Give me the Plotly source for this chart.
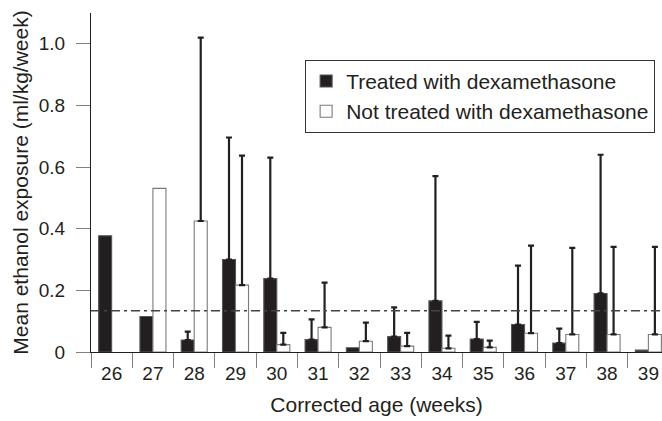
import plotly.graph_objects as go

# ---- data ----
ages = ["26", "27", "28", "29", "30", "31", "32", "33", "34", "35", "36", "37", "38", "39"]

treated = [0.377, 0.115, 0.039, 0.300, 0.238, 0.040, 0.014, 0.050, 0.166, 0.042, 0.089, 0.029, 0.190, 0.006]
treated_upper = [None, None, 0.066, 0.696, 0.631, 0.106, None, 0.145, 0.571, 0.098, 0.280, 0.076, 0.640, None]

not_treated = [None, 0.531, 0.425, 0.217, 0.024, 0.080, 0.035, 0.019, 0.012, 0.015, 0.061, 0.057, 0.057, 0.057]
not_treated_upper = [None, None, 1.020, 0.637, 0.062, 0.225, 0.095, 0.062, 0.053, 0.037, 0.345, 0.338, 0.341, 0.341]

reference_level = 0.134

INK = "#231f20"

fig = go.Figure()


def add_group(vals, upper, name, group, fill, edge):
    fig.add_trace(go.Bar(
        x=ages, y=vals, name=name, offsetgroup=group,
        marker=dict(color=fill, line=dict(color=edge, width=1.1)),
    ))
    # error bars only where the figure has them (transparent bars in the same slot)
    ys = [v if (u is not None and v is not None) else None for v, u in zip(vals, upper)]
    errs = [u - v if (u is not None and v is not None) else 0 for v, u in zip(vals, upper)]
    fig.add_trace(go.Bar(
        x=ages, y=ys, offsetgroup=group, showlegend=False, hoverinfo="skip",
        marker=dict(color="rgba(0,0,0,0)", line=dict(width=0)),
        error_y=dict(type="data", symmetric=False, array=errs, arrayminus=[0] * len(ages),
                     color=INK, thickness=2.2, width=3),
    ))


add_group(treated, treated_upper, "Treated with dexamethasone", "t", INK, "#555555")
add_group(not_treated, not_treated_upper, "Not treated with dexamethasone", "n", "white", "#7a7a7a")

# dash-dot reference line
fig.add_shape(type="line", xref="paper", x0=0, x1=1, yref="y", y0=reference_level, y1=reference_level,
              line=dict(color="#444444", width=1.6, dash="9px,4px,3px,4px"), layer="above")

fig.update_layout(
    width=662, height=421,
    margin=dict(l=91, r=0, t=13, b=69, autoexpand=False),
    paper_bgcolor="white", plot_bgcolor="white",
    font=dict(family="Liberation Sans, Arial, sans-serif", size=21, color=INK),
    barmode="group", bargap=0.37, bargroupgap=0,
    showlegend=True,
    legend=dict(x=0.375, y=0.862, xanchor="left", yanchor="top",
                bordercolor="#333333", borderwidth=1, bgcolor="white",
                font=dict(size=21, color=INK), tracegroupgap=0),
)

fig.update_xaxes(
    type="category", range=[-0.5, 13.33], automargin=False,
    showline=True, linecolor=INK, linewidth=1.2,
    ticks="outside", tickson="boundaries", ticklen=15, tickcolor="#808080", tickwidth=1,
    tickfont=dict(size=19), ticklabelstandoff=4,
    showgrid=False,
    title=dict(text="Corrected age (weeks)", standoff=14, font=dict(size=21)),
)
fig.update_yaxes(
    range=[0, 1.1], automargin=False,
    tickvals=[0, 0.2, 0.4, 0.6, 0.8, 1.0],
    ticktext=["0", "0.2", "0.4", "0.6", "0.8", "1.0"],
    showline=True, linecolor=INK, linewidth=1.2,
    ticks="outside", ticklen=14, tickcolor="#808080", tickwidth=1.2,
    tickfont=dict(size=19), ticklabelstandoff=7,
    showgrid=False, zeroline=False,
    title=dict(text="Mean ethanol exposure (ml/kg/week)", standoff=4, font=dict(size=21)),
)

# page body has a default 8px margin; remove it so the figure sits at the window origin
fig.write_html("out.html", config={"displayModeBar": False},
               post_script="document.body.style.margin='0';")
